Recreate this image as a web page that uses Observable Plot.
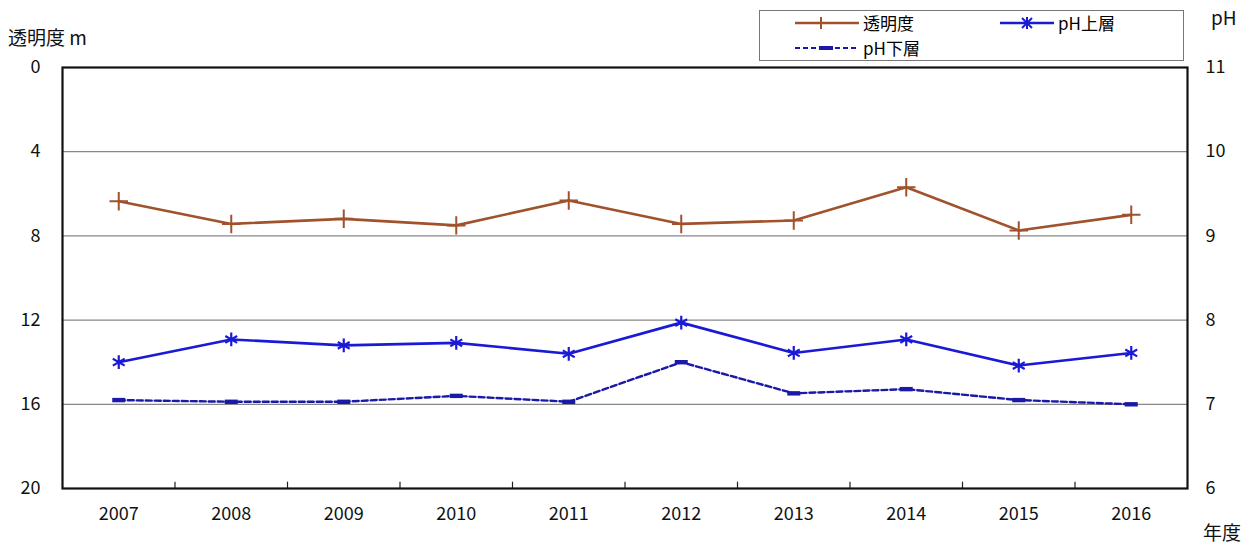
<!DOCTYPE html>
<html>
<head>
<meta charset="utf-8">
<script src="https://cdn.jsdelivr.net/npm/d3@7"></script>
<script src="https://cdn.jsdelivr.net/npm/@observablehq/plot@0.6"></script>
<style>
  html, body { margin: 0; padding: 0; background: #fff; }
  #wrap { position: relative; width: 1247px; height: 548px; font-family: "Noto Sans CJK JP", "Liberation Sans", sans-serif; }
  .ttl { position: absolute; font-size: 19px; line-height: 22px; color: #111; white-space: nowrap; }
  #legend { position: absolute; left: 759px; top: 10px; width: 425px; height: 51px; border: 1px solid #777; box-sizing: border-box; font-size: 17px; }
  .li { position: absolute; display: flex; align-items: center; white-space: nowrap; height: 20px; line-height: 20px; }
  .li svg { margin-right: 4px; }
</style>
</head>
<body>
<div id="wrap"></div>
<script>
const years = [2007, 2008, 2009, 2010, 2011, 2012, 2013, 2014, 2015, 2016];
const transparency = [6.35, 7.43, 7.19, 7.5, 6.32, 7.43, 7.27, 5.69, 7.74, 7.0];
const phUpper = [7.50, 7.77, 7.70, 7.73, 7.60, 7.97, 7.61, 7.77, 7.46, 7.61];
const phLower = [7.05, 7.03, 7.03, 7.10, 7.03, 7.50, 7.13, 7.18, 7.05, 7.00];
const leftTicks = [0, 4, 8, 12, 16, 20];
const gridTicks = [4, 8, 12, 16];
const phTicks = [11, 10, 9, 8, 7, 6];

const seriesNames = ["透明度", "pH上層", "pH下層"];
const colors = { "透明度": "#a0522d", "pH上層": "#1a1ad6", "pH下層": "#1a1aa8" };

// map pH (11 top .. 6 bottom) onto the transparency scale (0 top .. 20 bottom)
const phToT = p => (11 - p) * 4;
const tToPh = t => 11 - t / 4;

const tData = years.map((y, i) => ({ year: y, v: transparency[i] }));
const upData = years.map((y, i) => ({ year: y, v: phToT(phUpper[i]) }));
const loData = years.map((y, i) => ({ year: y, v: phToT(phLower[i]) }));
const boundaries = years.slice(1).map(y => y - 0.5);

const barSymbol = {
  draw(ctx, size) {
    const w = 6.5, h = 2.2;
    ctx.moveTo(-w, -h); ctx.lineTo(w, -h); ctx.lineTo(w, h); ctx.lineTo(-w, h); ctx.closePath();
  }
};

const font = "'Noto Sans CJK JP', 'Liberation Sans', sans-serif";

const chart = Plot.plot({
  width: 1247,
  height: 548,
  marginTop: 67,
  marginBottom: 60,
  marginLeft: 62,
  marginRight: 60,
  style: { fontFamily: font, fontSize: "18px", color: "#111", background: "transparent" },
  x: { domain: [years[0] - 0.5, years[years.length - 1] + 0.5], axis: null },
  y: { domain: [0, 20], reverse: true, axis: null },
  marks: [
    Plot.ruleY(gridTicks, { stroke: "#888", strokeWidth: 1.2 }),
    Plot.ruleX(boundaries, { y1: 20, y2: 19.7, stroke: "#222", strokeWidth: 1.2 }),
    Plot.frame({ stroke: "#111", strokeWidth: 2.2 }),
    Plot.axisX(years, { tickSize: 0, tickPadding: 19, label: null, tickFormat: d => String(d), fontSize: 18 }),
    Plot.axisY(leftTicks, { anchor: "left", tickSize: 0, tickPadding: 22, label: null, fontSize: 18 }),
    Plot.axisY(leftTicks, { anchor: "right", tickSize: 0, tickPadding: 18, label: null, fontSize: 18, tickFormat: d => String(tToPh(d)) }),
    Plot.line(tData, { x: "year", y: "v", stroke: colors["透明度"], strokeWidth: 2.6 }),
    Plot.dot(tData, { x: "year", y: "v", symbol: "plus", r: 6, stroke: colors["透明度"], strokeWidth: 2 }),
    Plot.line(upData, { x: "year", y: "v", stroke: colors["pH上層"], strokeWidth: 2.6 }),
    Plot.dot(upData, { x: "year", y: "v", symbol: "asterisk", r: 6.5, stroke: colors["pH上層"], strokeWidth: 2.2 }),
    Plot.line(loData, { x: "year", y: "v", stroke: colors["pH下層"], strokeWidth: 2.4, strokeDasharray: "6,3" }),
    Plot.dot(loData, { x: "year", y: "v", symbol: barSymbol, r: 5, fill: colors["pH下層"], stroke: "none" })
  ]
});

const wrap = document.getElementById("wrap");
wrap.appendChild(chart);
chart.style.position = "absolute";
chart.style.left = "0px";
chart.style.top = "0px";

function addTitle(text, left, top) {
  const d = document.createElement("div");
  d.className = "ttl";
  d.textContent = text;
  d.style.left = left + "px";
  d.style.top = top + "px";
  wrap.appendChild(d);
}
addTitle("透明度 m", 8, 26);
addTitle("pH", 1211, 6);
addTitle("年度", 1203, 521);

// legend
const legend = document.createElement("div");
legend.id = "legend";
wrap.appendChild(legend);
function swatch(name, kind) {
  const c = colors[name];
  let inner;
  if (kind === "plus") {
    inner = `<line x1="0" y1="8" x2="64" y2="8" stroke="${c}" stroke-width="2.4"/><line x1="26" y1="2" x2="26" y2="14" stroke="${c}" stroke-width="2"/><line x1="20" y1="8" x2="32" y2="8" stroke="${c}" stroke-width="2"/>`;
  } else if (kind === "ast") {
    inner = `<line x1="0" y1="8" x2="54" y2="8" stroke="${c}" stroke-width="2.4"/><g stroke="${c}" stroke-width="2"><line x1="27" y1="2" x2="27" y2="14"/><line x1="22" y1="3" x2="32" y2="13"/><line x1="32" y1="3" x2="22" y2="13"/></g>`;
  } else {
    inner = `<line x1="0" y1="8" x2="64" y2="8" stroke="${c}" stroke-width="2.2" stroke-dasharray="5,3"/><rect x="24" y="6" width="14" height="4" fill="${c}"/>`;
  }
  const w = kind === "ast" ? 54 : 64;
  return `<svg width="${w}" height="16">${inner}</svg>`;
}
const items = [
  { name: "透明度", kind: "plus", left: 35, top: 2 },
  { name: "pH上層", kind: "ast", left: 240, top: 2 },
  { name: "pH下層", kind: "dash", left: 35, top: 27 }
];
items.forEach(it => {
  const d = document.createElement("div");
  d.className = "li";
  d.style.left = it.left + "px";
  d.style.top = it.top + "px";
  d.innerHTML = swatch(it.name, it.kind) + `<span>${it.name}</span>`;
  legend.appendChild(d);
});
</script>
</body>
</html>
